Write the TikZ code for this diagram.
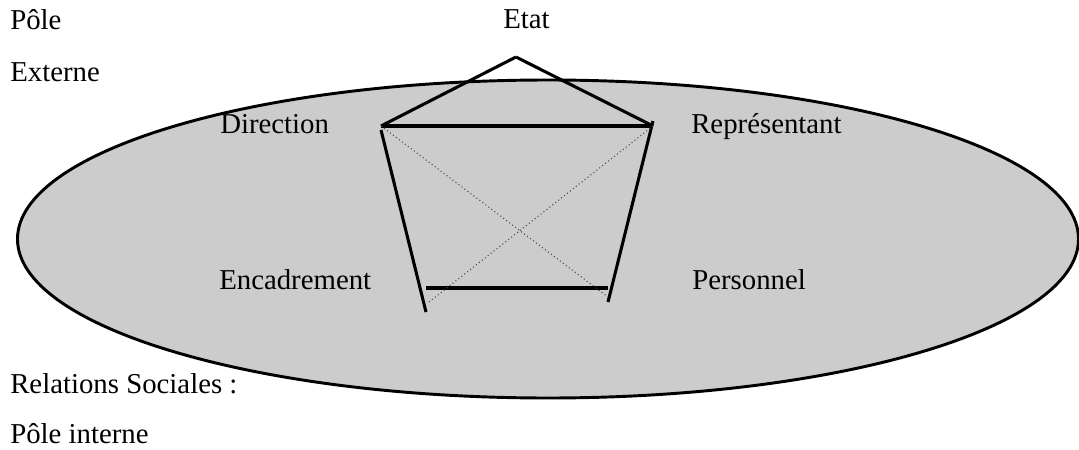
\documentclass[tikz,border=0pt]{standalone}
\usepackage{fontspec}
\setmainfont{Liberation Serif}
\usetikzlibrary{positioning,shapes.geometric}

\begin{document}
\begin{tikzpicture}[x=0.75pt,y=-0.75pt]
\tikzset{
  label/.style={anchor=base west,inner sep=0pt,font=\fontsize{21.6}{26}\selectfont},
  pole/.style={ellipse,draw=black,line width=2.2pt,fill=black!20,inner sep=0pt},
  relation/.style={draw=black,line width=2.3pt,line cap=butt},
  indirect/.style={draw=black!70,line width=0.8pt,dotted}
}
\useasboundingbox (0,0) rectangle (1079,450);
\node[pole,minimum width=795.75pt,minimum height=238.5pt] (n_pole) at (548,239) {};
\node[label] (n_poleext) at (10,29) {Pôle};
\node[label] (n_externe) at (10,81) {Externe};
\node[label] (n_etat) at (503,28) {Etat};
\node[label] (n_direction) at (220,133) {Direction};
\node[label] (n_representant) at (691,133) {Représentant};
\node[label] (n_encadrement) at (219,289) {Encadrement};
\node[label] (n_personnel) at (692,289) {Personnel};
\node[label] (n_relations) at (10,393) {Relations Sociales :};
\node[label] (n_interne) at (10,443) {Pôle interne};
\coordinate (c_E) at (516,57);
\coordinate (c_D) at (381,126);
\coordinate (c_R) at (653,126);
\coordinate (c_Dt) at (381,130);
\coordinate (c_Rt) at (653,121);
\coordinate (c_Ec) at (426,312);
\coordinate (c_P) at (608,302);
\coordinate (c_Eh) at (426,288);
\coordinate (c_Ph) at (608,288);
\coordinate (c_Ed) at (429,302);
\coordinate (c_Pd) at (608,297);
\draw[relation] (c_E) -- (c_D);
\draw[relation] (c_E) -- (c_R);
\draw[relation] (c_D) -- (c_R);
\draw[relation] (c_Dt) -- (c_Ec);
\draw[relation] (c_Rt) -- (c_P);
\draw[relation] (c_Eh) -- (c_Ph);
\draw[indirect] (c_D) -- (c_Pd);
\draw[indirect] (c_R) -- (c_Ed);
\end{tikzpicture}
\end{document}
